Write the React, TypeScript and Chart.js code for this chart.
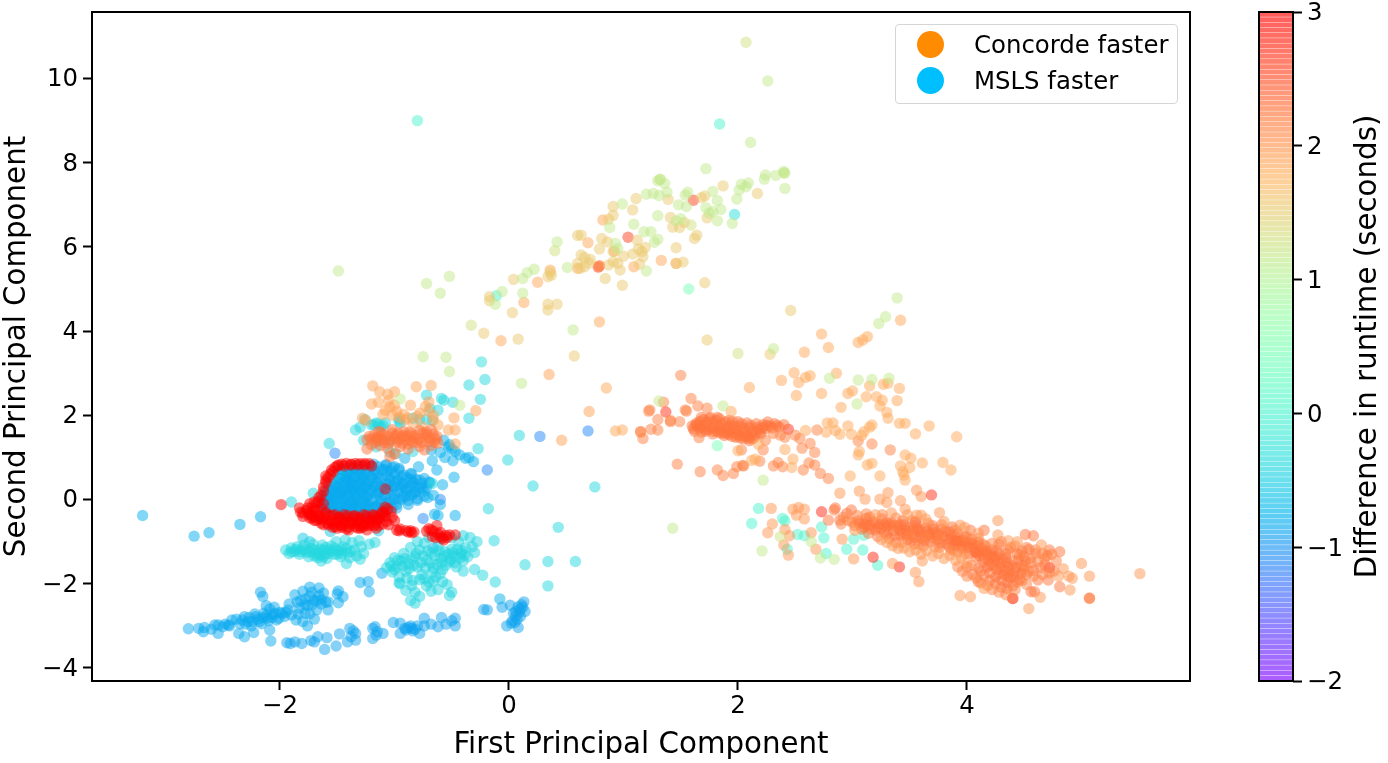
import { useEffect, useRef } from "react"
import { Chart, registerables } from "chart.js"
import type { Plugin } from "chart.js"

Chart.register(...registerables)

type Pt = [number, number]

const xTicks = [-2, 0, 2, 4]
const yTicks = [-4, -2, 0, 2, 4, 6, 8, 10]
const barTicks = [-2, -1, 0, 1, 2, 3]
const xLabel = "First Principal Component"
const yLabel = "Second Principal Component"
const barLabel = "Difference in runtime (seconds)"
const legendLabels = ["Concorde faster", "MSLS faster"]

// upper branch
const upperGreen: Pt[] = [
  [2.26, 9.94], [2.11, 8.48], [1.72, 7.86], [2.4, 7.79], [2.41, 7.75], [2.24, 7.71], [2.23, 7.61], [2.33, 7.7],
  [2.41, 7.39], [2.09, 7.52], [2.03, 7.49], [2.07, 7.43], [2.01, 7.35], [1.99, 7.14], [1.78, 7.32], [1.82, 7.1],
  [1.85, 6.89], [1.72, 6.93], [1.78, 6.84], [1.75, 6.8], [1.82, 6.62], [1.95, 6.56], [1.56, 7.3], [1.54, 7.23],
  [1.48, 7.0], [1.55, 6.96], [1.32, 7.61], [1.3, 7.57], [1.36, 7.51], [1.38, 7.3], [1.31, 7.22], [1.26, 7.27],
  [1.2, 7.25], [1.3, 6.74], [1.46, 6.62], [1.5, 6.67], [1.18, 6.36], [1.24, 6.36], [1.3, 6.18], [1.27, 6.11],
  [0.42, 6.12], [0.51, 5.51], [0.93, 6.08], [0.95, 5.96], [0.22, 5.47], [0.16, 5.39], [0.12, 5.25],
  [-0.06, 4.94], [-0.52, 5.3], [-0.6, 4.9], [-0.72, 5.13], [-0.75, 3.39], [-0.55, 3.38], [-1.49, 5.43],
  [0.56, 4.03], [1.2, 5.43], [0.12, 4.9], [-0.12, 4.64], [0.99, 7.02], [1.09, 6.54], [0.88, 6.46],
  [3.23, 4.18], [3.29, 4.34], [3.39, 4.79], [2.31, 3.58], [3.05, 2.84], [3.17, 2.85], [3.04, 2.27], [1.31, 2.34],
  [1.87, 2.22], [2.8, 2.88], [3.32, 2.88], [-0.95, 2.39], [-0.43, 2.24], [0.11, 2.76], [-0.52, 3.04], [1.43, -0.68],
  [2.22, 0.46], [2.21, -1.22], [2.72, -1.39], [2.84, -1.42], [2.64, -1.0],
]
const upperOlive: Pt[] = [
  [2.07, 10.86], [0.4, 5.91], [2.0, 3.47], [-0.33, 4.14], [1.32, 7.6], [2.4, 7.76], [1.59, 6.52], [2.37, -0.88],
]
const upperTan: Pt[] = [
  [2.17, 7.27], [1.87, 7.45], [1.73, 6.69], [1.68, 7.17], [1.71, 7.21], [1.39, 7.13], [1.11, 7.15], [0.91, 6.96],
  [1.08, 6.88], [0.91, 6.75], [0.87, 6.66], [1.41, 6.7], [1.53, 6.58], [1.43, 6.47], [1.49, 6.46], [1.64, 6.28],
  [1.62, 6.2], [1.12, 6.16], [1.19, 5.99], [1.16, 5.89], [1.08, 5.83], [1.17, 5.77], [1.46, 5.98], [1.46, 5.61],
  [1.52, 5.64], [1.14, 5.59], [0.81, 6.2], [0.86, 6.12], [0.91, 5.89], [0.79, 5.95], [0.6, 6.27], [0.63, 6.28],
  [0.63, 5.81], [0.71, 5.7], [0.66, 5.75], [0.6, 5.61], [0.66, 5.53], [0.62, 5.49], [0.87, 5.57], [0.91, 5.65],
  [0.95, 5.61], [0.97, 5.45], [0.84, 5.25], [0.99, 5.09], [0.37, 5.33], [0.34, 5.29], [0.04, 5.23], [-0.17, 4.82],
  [-0.17, 4.72], [0.34, 4.64], [0.42, 4.64], [0.34, 4.5], [0.03, 4.44], [0.08, 3.81], [0.57, 3.41], [1.73, 3.79],
  [2.28, 3.45], [2.46, 4.49], [-0.22, 3.95], [1.71, 5.15], [0.36, 5.4], [0.7, 5.62], [1.0, 5.78], [1.13, 5.95],
]
const upperOrange: Pt[] = [
  [0.82, 6.64], [0.69, 6.1], [0.92, 5.9], [1.33, 5.68], [1.46, 5.61], [1.09, 5.53], [0.25, 5.16], [0.36, 5.45],
  [0.13, 4.68], [0.79, 4.22], [-0.07, 3.77], [0.6, 5.49], [0.79, 5.55], [2.58, 3.5], [0.85, 2.65], [0.93, 1.63],
  [0.99, 1.65],
]
const upperHot: Pt[] = [[1.61, 7.11], [1.04, 6.23], [0.79, 5.55], [0.78, 5.52]]
const cyanTops: Pt[] = [[-0.8, 9.0], [1.84, 8.92], [-0.11, 4.84]]
const cyanBlue: Pt[] = [[1.97, 6.77], [-0.24, 3.27]]
const mint: Pt[] = [[1.57, 5.0], [1.82, 1.28]]

// middle branch
const midTan: Pt[] = [
  [2.73, 3.93], [2.79, 3.61], [3.05, 3.73], [3.09, 3.79], [3.13, 3.87], [3.42, 4.26], [2.38, 2.83], [2.49, 3.01],
  [2.53, 2.78], [2.59, 2.9], [2.63, 2.94], [2.86, 3.0], [2.1, 2.66], [3.15, 2.7], [3.27, 2.74], [3.31, 2.76],
  [3.41, 2.64], [2.51, 2.47], [2.73, 2.52], [2.96, 2.52], [3.0, 2.58], [3.12, 2.44], [3.21, 2.44], [3.26, 2.36],
  [3.39, 2.35], [3.24, 2.22], [2.9, 2.19], [3.3, 2.07], [3.31, 1.93], [1.94, 2.09], [2.59, 1.64], [2.78, 1.82],
  [2.83, 1.82], [2.77, 1.6], [2.85, 1.64], [2.89, 1.55], [2.96, 1.75], [2.99, 1.55], [3.17, 1.77], [3.15, 1.72],
  [3.1, 1.61], [3.08, 1.52], [3.41, 1.81], [3.46, 1.81], [3.67, 1.75], [3.55, 1.56], [3.91, 1.49], [3.06, 1.14],
  [3.05, 1.06], [3.46, 1.06], [3.51, 0.98], [3.61, 0.87], [3.79, 0.88], [3.86, 0.7], [3.42, 0.8], [3.5, 0.76],
  [3.44, 0.66], [3.45, 0.58], [3.46, 0.46], [2.98, 0.56], [3.24, 0.56], [2.48, 0.96], [2.47, 0.76], [2.41, 1.19],
  [3.13, 0.82], [3.17, 0.86], [2.18, 1.31], [2.0, 1.16], [2.15, 0.96], [2.12, 0.93],
]
const midOrange: Pt[] = [
  [1.5, 2.95], [1.35, 2.31], [1.23, 2.13], [1.22, 2.1], [1.59, 2.4], [1.54, 2.13], [1.65, 2.22], [1.73, 2.17],
  [1.3, 1.9], [1.41, 1.85], [1.49, 1.85], [1.24, 1.67], [1.3, 1.65], [1.15, 1.6], [1.17, 1.45], [1.66, 1.47],
  [2.31, 1.57], [2.37, 1.53], [2.41, 1.48], [2.5, 1.53], [2.54, 1.45], [2.63, 1.33], [2.24, 1.41], [2.22, 1.18],
  [2.03, 1.18], [2.56, 1.22], [2.67, 1.12], [2.19, 0.91], [1.99, 0.78], [1.47, 0.84], [1.67, 0.66], [1.82, 0.7],
  [1.87, 0.57], [1.96, 0.62], [2.31, 0.8], [2.35, 0.88], [2.39, 0.78], [2.57, 0.7], [2.62, 0.87], [2.67, 0.82],
  [2.72, 0.62], [2.79, 0.5], [3.05, 1.39], [3.17, 1.32], [3.33, 1.18], [2.69, 1.65], [2.04, 0.81], [2.05, 0.8],
  [1.41, 1.88], [1.55, 2.1], [1.15, 1.62],
]
const midBand: Pt[] = [
  [1.6, 1.75], [1.62, 1.62], [1.64, 1.82], [1.66, 1.7], [1.68, 1.6], [1.7, 1.9], [1.72, 1.78], [1.74, 1.66],
  [1.76, 1.95], [1.78, 1.84], [1.8, 1.72], [1.82, 1.62], [1.84, 1.92], [1.86, 1.8], [1.88, 1.68], [1.9, 1.58],
  [1.92, 1.88], [1.94, 1.76], [1.96, 1.65], [1.98, 1.55], [2.0, 1.85], [2.02, 1.74], [2.04, 1.62], [2.06, 1.5],
  [2.08, 1.82], [2.1, 1.7], [2.12, 1.58], [2.14, 1.46], [2.16, 1.8], [2.18, 1.66], [2.2, 1.56], [2.22, 1.78],
  [2.24, 1.68], [2.26, 1.84], [2.28, 1.74], [2.32, 1.8], [2.36, 1.72], [2.4, 1.78], [2.05, 1.44], [2.1, 1.4],
  [1.95, 1.5], [1.88, 1.52], [1.78, 1.56], [1.72, 1.62], [1.65, 1.76], [1.75, 1.92], [1.82, 1.95], [1.68, 1.95],
  [1.61, 1.68], [1.63, 1.78], [1.67, 1.86], [1.69, 1.72], [1.71, 1.66], [1.73, 1.84], [1.77, 1.7], [1.79, 1.62],
  [1.81, 1.88], [1.83, 1.76], [1.85, 1.66], [1.87, 1.58], [1.89, 1.84], [1.91, 1.72], [1.93, 1.62], [1.95, 1.86],
  [1.97, 1.74], [1.99, 1.64], [2.01, 1.52], [2.03, 1.8], [2.05, 1.68], [2.07, 1.58], [2.09, 1.46], [2.11, 1.76],
  [2.13, 1.64], [2.15, 1.52], [2.17, 1.72], [2.19, 1.6], [2.21, 1.7], [2.25, 1.76], [2.3, 1.7], [2.34, 1.76],
  [2.02, 1.46], [1.98, 1.48], [2.08, 1.52], [2.12, 1.44], [1.92, 1.54], [1.84, 1.58],
]
const midHot: Pt[] = [[1.37, 2.08], [2.44, 1.67], [3.69, 0.11]]

// lower right branch
const lowTan: Pt[] = [
  [2.89, 0.15], [3.06, 0.2], [3.11, 0.01], [3.31, 0.16], [3.3, -0.07], [3.42, -0.03], [3.56, 0.22], [3.6, 0.07],
  [3.76, -0.31], [3.56, -0.37], [3.6, -0.37], [4.27, -0.5], [2.29, -0.21], [2.3, -0.58], [2.26, -0.79], [2.41, -0.71],
  [2.45, -0.86], [2.64, -0.79], [2.68, -1.18], [2.44, -1.32], [2.4, -1.08], [2.91, -0.94], [3.01, -1.41], [3.02, -0.73],
  [3.35, -1.52], [3.55, -1.73], [3.58, -1.95], [3.61, -1.46], [3.94, -2.28], [4.03, -2.31], [4.54, -2.59], [5.0, -1.52],
  [5.07, -1.82], [5.51, -1.76], [4.9, -2.15], [3.25, -0.95], [3.35, -1.1], [3.45, -1.15], [3.55, -1.2], [3.65, -1.22],
  [3.75, -1.28], [3.85, -1.32], [3.95, -1.38], [2.48, -0.23], [2.53, -0.19], [2.58, -0.23], [2.51, -0.37], [2.58, -0.46],
  [4.84, -1.64], [4.92, -1.87], [4.89, -1.82], [4.8, -1.82], [4.27, -0.84], [4.36, -0.98], [4.44, -1.0], [4.65, -1.08],
  [4.64, -2.32], [4.15, -2.11], [3.94, -0.61], [3.46, -0.23], [3.24, 0.01],
  [3.3, -1.02], [3.4, -1.16], [3.5, -1.24], [3.6, -1.3], [3.7, -1.34], [3.8, -1.4], [3.9, -1.44], [4.0, -1.5],
  [3.2, -0.36], [3.34, -0.32], [3.48, -0.36], [3.64, -0.46], [3.8, -0.52], [3.98, -0.66], [4.1, -0.8],
]
const lowBand: Pt[] = [
  [2.84, -0.25], [2.85, -0.2], [2.79, -0.49], [2.89, -0.49], [2.95, -0.33], [2.99, -0.25], [3.02, -0.62], [3.05, -0.5],
  [3.08, -0.7], [3.1, -0.58], [3.12, -0.45], [3.14, -0.8], [3.15, -0.62], [3.18, -0.52], [3.2, -0.72], [3.22, -0.88],
  [3.24, -0.6], [3.26, -0.46], [3.28, -0.78], [3.3, -0.65], [3.32, -0.92], [3.34, -0.55], [3.36, -0.74], [3.38, -1.02],
  [3.4, -0.62], [3.42, -0.84], [3.44, -0.5], [3.46, -0.72], [3.48, -0.95], [3.5, -0.66], [3.52, -0.82], [3.54, -1.06],
  [3.56, -0.6], [3.58, -0.76], [3.6, -0.92], [3.62, -1.1], [3.64, -0.68], [3.66, -0.84], [3.68, -1.0], [3.7, -0.62],
  [3.72, -0.78], [3.74, -0.95], [3.76, -1.14], [3.78, -0.7], [3.8, -0.88], [3.82, -1.05], [3.84, -0.76], [3.86, -0.94],
  [3.88, -1.2], [3.9, -1.08], [3.92, -0.8], [3.94, -0.98], [3.96, -1.16], [3.98, -0.88], [4.0, -1.06], [4.02, -1.28],
  [4.04, -0.95], [4.06, -1.15], [4.08, -1.36], [4.1, -1.02], [4.12, -1.24], [4.14, -1.48], [4.16, -1.1], [4.18, -1.32],
  [4.2, -1.56], [4.22, -1.2], [4.24, -1.42], [4.26, -1.66], [4.28, -1.3], [4.3, -1.52], [4.32, -1.78], [4.34, -1.38],
  [4.36, -1.6], [4.38, -1.86], [4.4, -1.46], [4.42, -1.7], [4.44, -1.28], [4.46, -1.9], [4.48, -1.56], [4.5, -1.36],
  [4.52, -1.78], [4.54, -1.18], [4.56, -1.5], [4.58, -1.68], [4.6, -1.28], [4.1, -1.62], [4.15, -1.8], [4.2, -1.92],
  [4.25, -2.0], [4.3, -2.08], [4.35, -2.12], [4.4, -2.05], [4.05, -1.78], [4.1, -1.95], [4.0, -1.6], [4.51, -0.83],
  [4.58, -0.86], [4.72, -1.2], [4.81, -1.24], [4.7, -1.33], [4.71, -1.91], [4.62, -1.91], [4.4, -2.35], [4.56, -2.19],
  [4.59, -2.19], [4.81, -2.07], [4.15, -0.73], [4.03, -0.73], [3.87, -0.65], [3.3, -0.55], [3.15, -0.42], [3.42, -0.6],
  [4.68, -1.55], [4.76, -1.7], [4.64, -1.62], [4.48, -1.22], [4.38, -1.14], [4.28, -1.06],
]
const lowBandDense: Pt[] = [
  [3.06, -0.56], [3.1, -0.66], [3.16, -0.7], [3.2, -0.56], [3.25, -0.7], [3.3, -0.82], [3.33, -0.6], [3.37, -0.86],
  [3.41, -0.72], [3.45, -0.6], [3.47, -0.84], [3.51, -0.98], [3.53, -0.72], [3.57, -0.68], [3.59, -0.86], [3.63, -0.98],
  [3.65, -0.76], [3.69, -0.9], [3.71, -0.7], [3.75, -0.82], [3.77, -1.04], [3.81, -0.76], [3.83, -0.96], [3.85, -1.14],
  [3.89, -0.86], [3.91, -1.0], [3.95, -1.1], [3.97, -0.96], [4.01, -1.14], [4.03, -1.02], [4.07, -1.24], [4.09, -1.1],
  [4.11, -1.34], [4.13, -1.16], [4.15, -1.4], [4.17, -1.22], [4.19, -1.46], [4.21, -1.3], [4.23, -1.56], [4.25, -1.36],
  [4.27, -1.48], [4.29, -1.62], [4.31, -1.42], [4.33, -1.68], [4.35, -1.5], [4.37, -1.74], [4.39, -1.58], [4.41, -1.82],
  [4.43, -1.62], [4.45, -1.44], [4.47, -1.76], [4.49, -1.66], [4.51, -1.46], [4.2, -1.74], [4.25, -1.84], [4.3, -1.92],
  [4.35, -1.98], [4.12, -1.7], [4.18, -1.6], [4.28, -1.76], [4.36, -1.84], [4.44, -1.96], [3.74, -0.86], [3.6, -0.74],
  [3.92, -1.0], [3.98, -1.02], [4.05, -1.05], [3.49, -0.74], [3.55, -0.9], [3.68, -0.8], [3.86, -0.84], [3.44, -0.8],
  [3.12, -0.6], [3.22, -0.66], [3.28, -0.6], [3.36, -0.62], [4.16, -1.24], [4.22, -1.36], [4.26, -1.22], [4.34, -1.28],
]
const lowSpread: Pt[] = [
  [4.3, -1.0], [4.36, -1.2], [4.42, -1.1], [4.46, -1.32], [4.52, -1.14], [4.55, -1.4], [4.6, -1.2], [4.62, -1.46],
  [4.66, -1.28], [4.68, -1.4], [4.74, -1.3], [4.78, -1.46], [4.5, -1.6], [4.54, -1.7], [4.58, -1.82], [4.66, -1.78],
  [4.72, -1.74], [4.48, -1.92], [4.52, -2.02], [4.42, -2.14], [4.34, -2.26], [4.28, -2.2], [4.22, -2.14], [4.18, -2.04],
  [4.12, -1.98], [4.08, -1.86], [4.0, -1.82], [3.96, -1.7], [3.92, -1.6], [4.04, -1.56], [4.14, -1.06], [4.22, -1.04],
  [4.1, -0.92], [4.0, -0.88], [3.9, -0.72], [3.78, -0.6], [3.66, -0.56], [3.52, -0.5], [3.38, -0.44], [3.26, -0.36],
  [3.12, -0.34], [3.04, -0.38], [2.96, -0.5], [2.92, -0.42], [2.9, -0.58], [3.0, -0.54], [3.44, -1.02], [3.58, -1.06],
  [3.72, -1.12], [3.86, -1.2], [3.98, -1.28], [3.76, -0.9], [3.64, -0.88], [3.5, -0.86], [3.92, -1.24],
]
const lowHot: Pt[] = [
  [3.18, -1.37], [3.41, -1.6], [3.55, -0.53], [3.9, -0.98], [4.08, -1.26], [4.72, -1.62], [4.4, -2.35], [2.73, -0.29],
]
const lowDeep: Pt[] = [[5.07, -2.35], [5.07, -2.34]]
const lowCyan: Pt[] = [
  [2.18, -0.21], [2.12, -0.57], [2.41, -0.51], [2.52, -0.83], [2.58, -0.86], [2.43, -1.18], [2.75, -0.91], [2.77, -1.28],
  [2.95, -1.18], [3.01, -0.94], [3.09, -1.2], [3.22, -1.56], [2.73, -0.65], [2.39, -0.45], [3.1, -0.85],
]

// left clusters
const redBlob: Pt[] = [
  [-1.99, -0.12], [-1.83, -0.2], [-1.8, -0.32], [-1.77, -0.26], [-1.74, -0.36], [-1.72, -0.44], [-1.7, -0.28], [-1.68, -0.5],
  [-1.66, -0.38], [-1.64, -0.56], [-1.62, -0.44], [-1.6, -0.3], [-1.58, -0.6], [-1.56, -0.5], [-1.54, -0.38], [-1.52, -0.64],
  [-1.5, -0.52], [-1.48, -0.42], [-1.46, -0.66], [-1.44, -0.56], [-1.42, -0.44], [-1.4, -0.66], [-1.38, -0.54], [-1.36, -0.4],
  [-1.34, -0.64], [-1.32, -0.52], [-1.3, -0.44], [-1.28, -0.66], [-1.26, -0.56], [-1.24, -0.44], [-1.22, -0.62], [-1.2, -0.5],
  [-1.18, -0.38], [-1.16, -0.56], [-1.14, -0.46], [-1.12, -0.34], [-1.1, -0.28], [-1.08, -0.4], [-1.06, -0.22], [-1.64, 0.1],
  [-1.62, 0.3], [-1.58, 0.52], [-1.62, -0.1], [-1.52, 0.76], [-1.49, 0.82], [-1.46, 0.84], [-1.42, 0.86], [-1.38, 0.84],
  [-1.34, 0.86], [-1.3, 0.85], [-1.26, 0.86], [-1.22, 0.85], [-1.56, 0.6], [-1.6, 0.4], [-1.66, -0.04], [-1.55, 0.7],
  [-1.6, 0.56], [-0.98, -0.73], [-0.95, -0.7], [-0.88, -0.77], [-0.85, -0.79], [-0.83, -0.77], [-0.7, -0.69], [-0.66, -0.75],
  [-0.63, -0.62], [-0.6, -0.88], [-0.57, -0.96], [-0.52, -0.84], [-0.47, -0.84], [-0.67, -0.88], [-0.6, -0.78], [-1.08, 0.25],
  [-1.72, -0.18], [-1.7, -0.4], [-1.54, -0.66], [-1.42, -0.7], [-1.3, -0.68], [-1.18, -0.62], [-1.48, -0.6],
]
const redFill: Pt[] = [
  [-1.5, 0.8], [-1.44, 0.8], [-1.38, 0.82], [-1.32, 0.82], [-1.26, 0.82], [-1.2, 0.8], [-1.54, 0.66], [-1.6, 0.46],
  [-1.62, 0.2], [-1.66, 0.05], [-1.7, -0.06], [-1.74, -0.1], [-1.68, -0.08], [-1.76, -0.2], [-1.7, -0.22], [-1.64, -0.2],
  [-1.82, -0.3], [-1.75, -0.32], [-1.68, -0.28], [-1.6, -0.34], [-1.52, -0.36], [-1.44, -0.36], [-1.35, -0.38], [-1.27, -0.36],
  [-1.19, -0.36], [-1.1, -0.32], [-1.03, -0.28], [-1.08, -0.18], [-1.8, -0.4], [-1.72, -0.38], [-1.65, -0.42], [-1.57, -0.38],
  [-1.49, -0.42], [-1.41, -0.38], [-1.33, -0.42], [-1.25, -0.38], [-1.17, -0.42], [-1.09, -0.38], [-1.02, -0.42], [-1.7, -0.5],
  [-1.63, -0.48], [-1.55, -0.52], [-1.47, -0.48], [-1.39, -0.52], [-1.31, -0.48], [-1.23, -0.52], [-1.15, -0.48], [-1.07, -0.52],
  [-1.62, -0.6], [-1.54, -0.58], [-1.46, -0.62], [-1.38, -0.58], [-1.3, -0.62], [-1.22, -0.58], [-1.14, -0.62], [-1.5, -0.68],
  [-1.4, -0.72], [-1.32, -0.68], [-1.24, -0.72], [-1.16, -0.68], [-1.05, -0.6], [-1.0, -0.5], [-0.96, -0.74], [-0.9, -0.74],
  [-0.86, -0.74], [-0.72, -0.75], [-0.64, -0.9], [-0.58, -0.92], [-0.54, -0.9], [-0.62, -0.82], [-0.55, -0.85], [-0.68, -0.72],
  [-1.58, -0.56], [-1.66, -0.46], [-1.74, -0.44], [-1.44, -0.52], [-1.34, -0.56], [-1.26, -0.62], [-1.1, -0.58],
]
const midOrangeLeft: Pt[] = [
  [-1.24, 1.42], [-1.2, 1.3], [-1.18, 1.52], [-1.15, 1.4], [-1.12, 1.28], [-1.1, 1.55], [-1.08, 1.44], [-1.05, 1.34],
  [-1.02, 1.58], [-1.0, 1.46], [-0.98, 1.36], [-0.95, 1.26], [-0.92, 1.52], [-0.9, 1.42], [-0.88, 1.32], [-0.85, 1.56],
  [-0.83, 1.46], [-0.8, 1.36], [-0.78, 1.26], [-0.75, 1.58], [-0.73, 1.48], [-0.7, 1.38], [-0.68, 1.28], [-0.66, 1.55],
  [-0.64, 1.44], [-0.62, 1.34], [-1.14, 1.62], [-1.02, 1.66], [-0.92, 1.62], [-0.78, 1.64], [-0.68, 1.66], [-1.2, 1.44],
  [-1.06, 1.22], [-0.88, 1.2], [-0.74, 1.18], [-1.24, 1.2], [-1.04, 1.02], [-1.0, 1.08], [-1.22, 1.5], [-1.17, 1.36],
  [-1.13, 1.48], [-1.09, 1.36], [-1.06, 1.5], [-1.03, 1.4], [-0.99, 1.52], [-0.96, 1.42], [-0.93, 1.34], [-0.89, 1.5],
  [-0.86, 1.4], [-0.82, 1.52], [-0.79, 1.44], [-0.76, 1.36], [-0.72, 1.54], [-0.69, 1.44], [-0.65, 1.36], [-0.63, 1.5],
  [-0.97, 1.58], [-0.87, 1.6], [-0.72, 1.6], [-1.12, 1.6], [-1.16, 1.46], [-1.11, 1.42], [-0.94, 1.48], [-0.84, 1.36],
]
const leftTan: Pt[] = [
  [-1.19, 2.7], [-1.13, 2.56], [-1.0, 2.56], [-0.81, 2.68], [-0.68, 2.71], [-1.2, 2.27], [-1.14, 2.31], [-1.05, 2.36],
  [-0.86, 2.24], [-0.73, 2.21], [-0.7, 2.32], [-1.04, 2.2], [-1.0, 2.24], [-0.98, 2.1], [-1.28, 1.93], [-0.91, 1.89],
  [-0.84, 1.81], [-0.66, 1.89], [-0.62, 1.77], [-0.53, 1.65], [-0.47, 1.65], [-0.48, 1.94], [-0.29, 2.11], [-0.47, 1.32],
  [0.35, 2.97], [0.7, 2.09], [0.46, 1.41], [-1.06, 2.5], [-0.78, 2.05], [-0.7, 2.1], [-0.66, 2.0], [-1.25, 1.88],
  [-1.1, 2.02], [-0.92, 2.02], [-0.76, 1.74], [-1.08, 2.12], [-1.02, 2.0], [-0.96, 1.96], [-0.88, 1.94], [-0.8, 1.98],
]
const leftCyan: Pt[] = [
  [-0.72, 2.48], [-0.59, 2.4], [-0.57, 2.36], [-0.49, 2.31], [-0.62, 2.12], [-0.69, 2.16], [-0.35, 2.72], [-0.21, 2.85],
  [-0.25, 2.38], [-0.35, 1.93], [-0.27, 1.21], [-0.01, 0.94], [0.09, 1.52], [0.21, 0.32], [0.75, 0.3], [-0.18, -0.22],
  [0.43, -0.66], [-0.13, -0.98], [0.14, -1.55], [0.34, -1.47], [0.58, -1.47], [0.34, -2.05], [-0.23, -1.8], [-0.12, -1.96],
  [-1.2, 1.77], [-1.14, 1.8], [-1.08, 1.82], [-1.12, 1.72], [-0.96, 1.91], [-0.84, 1.93], [-0.78, 1.9], [-0.72, 1.9],
  [-0.67, 1.88], [-1.34, 1.65], [-1.3, 1.72], [-1.27, 1.41], [-1.57, 1.33], [-1.15, 1.45], [-1.04, 1.4], [-1.16, 1.25],
  [-1.04, 1.13], [-0.99, 1.09], [-0.84, 1.14], [-0.67, 0.38], [-1.71, 0.15], [-1.9, -0.06], [-1.26, 1.9], [-0.95, 1.82],
  [-1.18, 1.78], [-1.1, 1.76], [-0.96, 1.86], [-1.16, 1.82],
]
const leftBlue: Pt[] = [
  [-0.57, 1.41], [-0.53, 1.25], [-0.47, 1.14], [-0.43, 1.06], [-0.56, 1.0], [-0.49, 0.92], [-0.38, 0.98], [-0.31, 0.9],
  [-0.48, 0.53], [-0.68, 1.18], [-0.67, 0.92], [-0.63, 0.7], [-0.91, 0.98], [-0.79, 0.78], [-0.6, 1.12], [-0.5, 1.2],
  [-0.35, 1.0], [-3.2, -0.38], [-2.75, -0.87], [-2.62, -0.79], [-2.35, -0.59], [-2.17, -0.41], [-0.08, -2.36], [-0.66, -1.15],
  [-0.6, -0.12], [-0.71, 0.05], [-0.65, -0.35], [-0.62, -0.38], [-0.47, -0.38], [-0.58, 0.35], [-0.66, 0.1], [-0.52, 1.3],
]
const purpleBlue: Pt[] = [[0.27, 1.5], [-0.19, 0.7], [-1.52, 1.1], [-0.6, 0.0], [-0.75, -0.45], [0.69, 1.63], [-1.38, 0.33], [-1.36, 0.3], [-1.34, 0.34]]
const blueBlob: Pt[] = [
  [-1.64, -0.1], [-1.62, 0.08], [-1.6, -0.22], [-1.58, 0.22], [-1.56, -0.04], [-1.54, 0.36], [-1.52, 0.12], [-1.5, -0.28],
  [-1.48, 0.5], [-1.46, 0.24], [-1.44, 0.0], [-1.42, -0.18], [-1.4, 0.62], [-1.38, 0.4], [-1.36, 0.16], [-1.34, -0.1],
  [-1.32, -0.36], [-1.3, 0.72], [-1.28, 0.52], [-1.26, 0.28], [-1.24, 0.06], [-1.22, -0.2], [-1.2, 0.78], [-1.18, 0.6],
  [-1.16, 0.38], [-1.14, 0.14], [-1.12, -0.08], [-1.1, -0.3], [-1.08, 0.82], [-1.06, 0.66], [-1.04, 0.46], [-1.02, 0.22],
  [-1.0, 0.02], [-0.98, -0.2], [-0.96, 0.74], [-0.94, 0.54], [-0.92, 0.3], [-0.9, 0.08], [-0.88, -0.12], [-0.86, 0.62],
  [-0.84, 0.4], [-0.82, 0.18], [-0.8, -0.02], [-0.78, 0.46], [-0.76, 0.26], [-0.74, 0.08], [-1.46, 0.7], [-1.36, 0.76],
  [-1.28, 0.8], [-1.18, 0.84], [-1.1, 0.7], [-1.02, 0.76], [-1.5, 0.32], [-1.42, 0.44], [-1.34, 0.56], [-1.24, 0.66],
  [-1.14, 0.52], [-1.06, 0.36], [-0.98, 0.44], [-0.9, 0.24], [-0.82, 0.3], [-1.58, 0.04], [-1.48, 0.08], [-1.38, -0.04],
  [-1.28, 0.12], [-1.2, 0.2], [-1.1, 0.1], [-1.04, -0.06], [-0.94, 0.0], [-1.54, -0.16], [-1.44, -0.22], [-1.34, -0.24],
  [-1.24, -0.12], [-1.14, -0.2], [-1.4, 0.24], [-1.3, 0.36], [-1.22, 0.44], [-1.12, 0.3], [-1.0, 0.3], [-0.94, 0.36],
  [-1.62, -0.18], [-1.26, -0.32], [-1.16, -0.36], [-1.06, -0.26], [-0.86, 0.1], [-0.72, 0.28], [-0.7, 0.42], [-0.86, 0.48],
]
const blueFill: Pt[] = [
  [-1.2, 0.8], [-1.14, 0.78], [-1.07, 0.82], [-1.0, 0.78], [-1.32, 0.7], [-1.25, 0.72], [-1.17, 0.68], [-1.1, 0.72],
  [-1.03, 0.68], [-0.96, 0.7], [-1.38, 0.6], [-1.3, 0.62], [-1.22, 0.58], [-1.15, 0.62], [-1.07, 0.58], [-1.0, 0.62],
  [-0.92, 0.58], [-0.85, 0.6], [-1.42, 0.5], [-1.35, 0.52], [-1.27, 0.48], [-1.2, 0.52], [-1.12, 0.48], [-1.04, 0.52],
  [-0.97, 0.48], [-0.89, 0.52], [-0.81, 0.48], [-0.74, 0.5], [-1.45, 0.4], [-1.38, 0.38], [-1.3, 0.42], [-1.23, 0.38],
  [-1.15, 0.42], [-1.07, 0.38], [-1.0, 0.42], [-0.92, 0.38], [-0.84, 0.42], [-0.76, 0.38], [-0.69, 0.4], [-1.5, 0.3],
  [-1.42, 0.28], [-1.34, 0.32], [-1.26, 0.28], [-1.18, 0.32], [-1.1, 0.28], [-1.02, 0.32], [-0.94, 0.28], [-0.86, 0.32],
  [-0.78, 0.28], [-1.54, 0.2], [-1.46, 0.18], [-1.38, 0.22], [-1.3, 0.18], [-1.22, 0.22], [-1.14, 0.18], [-1.06, 0.22],
  [-0.98, 0.18], [-0.9, 0.22], [-0.82, 0.18], [-0.74, 0.2], [-1.56, 0.1], [-1.48, 0.12], [-1.4, 0.08], [-1.32, 0.12],
  [-1.24, 0.08], [-1.16, 0.12], [-1.08, 0.08], [-1.0, 0.12], [-0.92, 0.08], [-0.84, 0.12], [-1.6, 0.0], [-1.52, -0.02],
  [-1.44, 0.02], [-1.36, -0.02], [-1.28, 0.02], [-1.2, -0.02], [-1.12, 0.02], [-1.04, -0.02], [-0.96, 0.02], [-0.88, -0.02],
  [-0.8, 0.02], [-1.62, -0.1], [-1.54, -0.08], [-1.46, -0.12], [-1.38, -0.08], [-1.3, -0.12], [-1.22, -0.08], [-1.14, -0.12],
  [-1.06, -0.08], [-0.98, -0.12], [-1.58, -0.2], [-1.5, -0.18], [-1.42, -0.22], [-1.34, -0.18], [-1.26, -0.22], [-1.18, -0.18],
  [-1.1, -0.22], [-1.02, -0.18], [-1.5, -0.3], [-1.42, -0.32], [-1.34, -0.28], [-1.24, -0.32], [-1.14, -0.28], [-1.38, -0.42],
  [-1.26, -0.4], [-1.14, -0.44],
]
const tealBlob: Pt[] = [
  [-1.46, -0.42], [-1.36, -0.5], [-1.28, -0.3], [-1.22, -0.48], [-1.12, -0.44], [-1.46, 0.5], [-1.18, 0.3], [-1.55, -0.28],
  [-1.74, -1.0], [-1.45, -0.33], [-1.8, -0.92], [-1.56, -0.76], [-1.14, -0.74], [-1.3, -0.15], [-1.4, -0.3], [-1.34, 0.05],
  [-1.62, 0.0], [-1.6, -0.14], [-1.58, 0.14], [-1.56, -0.24], [-1.54, 0.28], [-1.52, -0.1], [-1.5, 0.42], [-1.5, 0.16],
  [-1.48, -0.32], [-1.46, 0.58], [-1.46, 0.04], [-1.44, 0.3], [-1.44, -0.16], [-1.42, 0.68], [-1.42, 0.14], [-1.4, -0.36],
  [-1.38, 0.52], [-1.38, -0.14], [-1.36, 0.72], [-1.36, 0.24], [-1.34, -0.36], [-1.32, 0.44], [-1.32, -0.02], [-1.3, 0.2],
  [-1.28, -0.42], [-1.26, 0.62], [-1.26, -0.04], [-1.24, 0.34], [-1.22, -0.3], [-1.2, 0.14], [-1.18, -0.44], [-1.16, -0.14],
  [-1.6, 0.2], [-1.57, 0.34], [-1.54, 0.48], [-1.5, 0.6], [-1.46, 0.72], [-1.4, 0.76], [-1.34, 0.78],
  [-1.6, 0.06], [-1.58, -0.08], [-1.56, 0.2], [-1.54, 0.04], [-1.52, 0.3], [-1.5, -0.16], [-1.48, 0.42], [-1.48, 0.18],
  [-1.46, -0.02], [-1.44, 0.54], [-1.44, 0.2], [-1.42, -0.1], [-1.4, 0.46], [-1.4, 0.1], [-1.38, 0.66], [-1.38, -0.22],
  [-1.36, 0.34], [-1.34, 0.14], [-1.32, -0.18], [-1.3, 0.54], [-1.28, 0.24], [-1.28, -0.1], [-1.26, 0.42], [-1.24, -0.24],
]
const tealLeft: Pt[] = [
  [-1.95, -1.2], [-1.92, -1.28], [-1.9, -1.15], [-1.87, -1.24], [-1.85, -1.12], [-1.83, -1.3], [-1.81, -1.18], [-1.79, -1.08],
  [-1.77, -1.26], [-1.75, -1.36], [-1.73, -1.16], [-1.71, -1.06], [-1.69, -1.28], [-1.67, -1.38], [-1.65, -1.18], [-1.63, -1.08],
  [-1.61, -1.3], [-1.59, -1.4], [-1.57, -1.2], [-1.55, -1.1], [-1.53, -1.3], [-1.51, -1.0], [-1.49, -1.22], [-1.47, -1.36],
  [-1.45, -1.12], [-1.43, -0.96], [-1.41, -1.26], [-1.39, -1.38], [-1.37, -1.02], [-1.35, -1.2], [-1.33, -1.34], [-1.31, -0.98],
  [-1.29, -1.12], [-1.27, -1.28], [-1.22, -1.06], [-1.17, -1.02], [-1.42, -1.52], [-1.64, -1.46], [-1.3, -1.42], [-1.9, -1.24],
  [-1.86, -1.18], [-1.82, -1.24], [-1.78, -1.2], [-1.74, -1.24], [-1.7, -1.2], [-1.66, -1.26], [-1.62, -1.2], [-1.58, -1.28],
  [-1.54, -1.22], [-1.7, -1.34], [-1.66, -1.32], [-1.62, -1.36], [-1.5, -1.3], [-1.46, -1.2], [-1.42, -1.16], [-1.38, -1.24],
  [-1.6, -1.14], [-1.52, -1.16], [-1.46, -1.28],
]
const tealRight: Pt[] = [
  [-1.07, -1.62], [-1.04, -1.5], [-1.02, -1.72], [-1.0, -1.38], [-0.98, -1.6], [-0.96, -1.84], [-0.94, -1.46], [-0.92, -1.28],
  [-0.9, -1.7], [-0.88, -1.52], [-0.86, -1.14], [-0.84, -1.92], [-0.82, -1.36], [-0.8, -1.6], [-0.78, -1.2], [-0.76, -1.78],
  [-0.74, -1.04], [-0.72, -1.44], [-0.7, -1.96], [-0.68, -1.26], [-0.66, -1.62], [-0.64, -1.84], [-0.62, -1.1], [-0.6, -1.4],
  [-0.58, -1.66], [-0.56, -1.24], [-0.54, -2.02], [-0.52, -1.48], [-0.5, -1.18], [-0.48, -1.36], [-0.46, -1.6], [-0.44, -1.0],
  [-0.42, -1.28], [-0.4, -1.46], [-0.38, -1.14], [-0.36, -1.36], [-0.34, -0.9], [-0.32, -1.12], [-0.3, -1.26], [-0.28, -1.0],
  [-0.85, -2.04], [-0.9, -2.16], [-0.82, -2.2], [-0.78, -2.3], [-0.72, -2.05], [-0.68, -2.18], [-0.62, -2.14], [-0.58, -1.95],
  [-0.52, -2.28], [-0.5, -2.2], [-0.95, -2.0], [-0.8, -1.0], [-0.7, -0.9], [-0.6, -0.92], [-0.5, -0.9], [-0.4, -0.86],
  [-0.86, -2.4], [-0.82, -2.46], [-0.96, -1.98], [-0.4, -1.7], [-0.3, -1.66], [-1.03, -1.58], [-1.0, -1.66], [-0.97, -1.44],
  [-0.93, -1.58], [-0.91, -1.4], [-0.87, -1.64], [-0.85, -1.4], [-0.83, -1.56], [-0.81, -1.28], [-0.77, -1.5], [-0.75, -1.34],
  [-0.73, -1.62], [-0.71, -1.22], [-0.69, -1.5], [-0.67, -1.72], [-0.65, -1.32], [-0.63, -1.54], [-0.61, -1.22], [-0.59, -1.5],
  [-0.57, -1.34], [-0.55, -1.56], [-0.53, -1.3], [-0.51, -1.42], [-0.49, -1.26], [-0.47, -1.5], [-0.45, -1.18], [-0.43, -1.38],
  [-0.41, -1.22], [-0.39, -1.32], [-0.89, -1.86], [-0.78, -1.9], [-0.66, -1.94], [-0.6, -1.76], [-0.74, -1.88],
]
const blueLower: Pt[] = [
  [-2.8, -3.07], [-2.71, -3.06], [-2.67, -3.14], [-2.66, -3.04], [-2.6, -3.08], [-2.54, -2.98], [-2.54, -3.18], [-2.45, -2.98],
  [-2.5, -3.02], [-2.42, -2.86], [-2.36, -3.18], [-2.31, -3.26], [-2.23, -3.16], [-2.09, -3.1], [-2.08, -3.36], [-2.38, -2.84],
  [-2.35, -2.95], [-2.31, -2.78], [-2.28, -2.9], [-2.25, -3.0], [-2.22, -2.72], [-2.19, -2.84], [-2.16, -2.95], [-2.14, -2.7],
  [-2.11, -2.82], [-2.09, -2.6], [-2.06, -2.72], [-2.03, -2.86], [-2.0, -2.68], [-2.17, -2.2], [-2.15, -2.3], [-2.12, -2.52],
  [-2.05, -2.56], [-1.96, -2.78], [-1.93, -2.62], [-1.9, -2.74], [-1.87, -2.26], [-1.85, -2.44], [-1.83, -2.58], [-1.8, -2.18],
  [-1.78, -2.36], [-1.76, -2.52], [-1.74, -2.72], [-1.72, -2.2], [-1.7, -2.4], [-1.68, -2.62], [-1.66, -2.28], [-1.64, -2.48],
  [-1.62, -2.22], [-1.6, -2.44], [-1.58, -2.62], [-1.86, -2.86], [-1.78, -2.7], [-1.5, -2.24], [-1.49, -2.17], [-1.45, -2.31],
  [-1.49, -2.45], [-1.58, -2.43], [-1.3, -1.97], [-1.23, -1.95], [-1.22, -2.19], [-1.11, -1.75], [-1.74, -2.08], [-1.66, -2.1],
  [-1.8, -2.9], [-1.7, -2.84], [-1.76, -3.0], [-1.84, -2.72], [-1.92, -2.48], [-2.33, -2.86], [-2.3, -2.96], [-2.27, -2.8],
  [-2.24, -2.9], [-2.21, -2.78], [-2.18, -2.9], [-2.15, -2.8], [-2.12, -2.76], [-2.1, -2.88], [-2.07, -2.8], [-2.04, -2.7],
  [-2.01, -2.82], [-1.98, -2.7], [-1.95, -2.68], [-1.82, -2.4], [-1.78, -2.5], [-1.74, -2.3], [-1.72, -2.5], [-1.68, -2.4],
  [-1.64, -2.38], [-2.57, -2.98], [-2.48, -2.96], [-2.44, -3.0],
]
const blueBottom: Pt[] = [
  [-1.94, -3.4], [-1.91, -3.42], [-1.87, -3.38], [-1.81, -3.42], [-1.73, -3.35], [-1.7, -3.38], [-1.67, -3.26], [-1.61, -3.56],
  [-1.59, -3.28], [-1.51, -3.48], [-1.48, -3.19], [-1.41, -3.38], [-1.39, -3.06], [-1.36, -3.12], [-1.34, -3.18], [-1.34, -3.34],
  [-1.38, -3.26], [-1.19, -3.06], [-1.17, -3.02], [-1.15, -3.14], [-1.1, -3.18], [-1.19, -3.3], [-1.16, -3.22], [-1.01, -2.92],
  [-0.95, -2.94], [-0.95, -3.18], [-0.91, -3.06], [-0.88, -3.04], [-0.85, -3.06], [-0.82, -3.08], [-0.78, -3.18], [-0.8, -3.0],
  [-0.74, -2.82], [-0.74, -3.0], [-0.68, -2.96], [-0.62, -3.02], [-0.59, -2.8], [-0.55, -2.96], [-0.47, -2.82], [-0.47, -3.0],
  [-0.5, -2.88], [-0.9, -3.1], [-0.86, -3.0], [-0.84, -3.12],
]
const blueSpot: Pt[] = [
  [0.01, -2.51], [0.13, -2.43], [0.08, -2.55], [0.14, -2.66], [0.04, -2.7], [0.1, -2.78], [0.07, -2.85], [0.02, -2.94],
  [-0.02, -3.0], [0.08, -3.04], [-0.06, -2.56], [-0.22, -2.61], [-0.19, -2.62], [0.1, -2.6], [0.06, -2.66], [0.11, -2.5],
  [0.05, -2.92], [0.03, -2.88], [0.09, -2.68], [0.12, -2.56], [0.06, -2.76],
]

const clusters: [Pt[], number][] = [
  [upperGreen, 1.15],
  [upperOlive, 1.3],
  [upperTan, 1.55],
  [upperOrange, 1.85],
  [upperHot, 2.6],
  [midTan, 1.85],
  [midOrange, 2.15],
  [midBand, 2.25],
  [midHot, 2.7],
  [lowTan, 2.0],
  [lowSpread, 2.15],
  [lowBand, 2.25],
  [lowBandDense, 2.25],
  [lowHot, 2.75],
  [lowDeep, 2.2],
  [redBlob, 3],
  [redFill, 3],
  [midOrangeLeft, 2.25],
  [leftTan, 1.9],
  [tealLeft, -0.4],
  [tealRight, -0.42],
  [lowCyan, 0],
  [leftCyan, -0.4],
  [leftBlue, -0.8],
  [blueBlob, -0.85],
  [blueFill, -0.85],
  [tealBlob, -0.55],
  [blueLower, -0.85],
  [blueBottom, -0.9],
  [blueSpot, -0.9],
  [purpleBlue, -1.1],
  [cyanTops, 0.0],
  [cyanBlue, -0.3],
  [mint, 0.45],
]

// matplotlib "rainbow" over the colorbar range
function rainbow(v: number, alpha: number) {
  const t = Math.min(1, Math.max(0, (v + 2) / 5))
  const r = Math.min(1, Math.abs(2 * t - 0.5))
  const g = Math.sin(Math.PI * t)
  const b = Math.cos((Math.PI * t) / 2)
  return `rgba(${Math.round(r * 255)}, ${Math.round(g * 255)}, ${Math.round(b * 255)}, ${alpha})`
}

const FONT = "'DejaVu Sans'"

const framePlugin: Plugin<"scatter"> = {
  id: "frame",
  afterDraw(chart) {
    const { ctx, chartArea: a } = chart
    ctx.save()
    ctx.strokeStyle = "#000"
    ctx.lineWidth = 2
    ctx.strokeRect(a.left, a.top, a.right - a.left, a.bottom - a.top)
    ctx.restore()
  },
}

const colorbarPlugin: Plugin<"scatter"> = {
  id: "colorbar",
  beforeDatasetsDraw(chart) {
    const { ctx, chartArea: a, scales } = chart
    const y = scales.y
    const bands = 128
    ctx.save()
    for (let i = 0; i < bands; i++) {
      const lo = -2 + (5 * i) / bands
      const hi = -2 + (5 * (i + 1)) / bands
      const top = y.getPixelForValue(hi)
      const bottom = y.getPixelForValue(lo)
      ctx.fillStyle = rainbow((lo + hi) / 2, 0.64)
      ctx.fillRect(a.left, top, a.right - a.left, bottom - top - 0.4)
    }
    ctx.restore()
  },
  afterDraw(chart) {
    const { ctx, chartArea: a } = chart
    ctx.save()
    ctx.translate(138, (a.top + a.bottom) / 2)
    ctx.rotate(-Math.PI / 2)
    ctx.fillStyle = "#000"
    ctx.font = `29.3px ${FONT}`
    ctx.textAlign = "center"
    ctx.textBaseline = "middle"
    ctx.fillText(barLabel, 0, 0)
    ctx.restore()
  },
}

const minus = (v: number | string) => String(v).replace("-", "\u2212")

export default function App() {
  const mainRef = useRef<HTMLCanvasElement>(null)
  const barRef = useRef<HTMLCanvasElement>(null)

  useEffect(() => {
    if (!mainRef.current || !barRef.current) return

    const main = new Chart(mainRef.current, {
      type: "scatter",
      data: {
        datasets: clusters.map(([points, diff]) => ({
          data: points.map(([x, y]) => ({ x, y })),
          backgroundColor: rainbow(diff, 0.5),
          borderWidth: 0,
          pointRadius: 5.7,
          pointHoverRadius: 5.7,
        })),
      },
      options: {
        animation: false,
        responsive: false,
        devicePixelRatio: 1,
        layout: { padding: { top: 12, right: 40, left: 0, bottom: 0 } },
        plugins: { legend: { display: false }, tooltip: { enabled: false } },
        scales: {
          x: {
            type: "linear",
            min: -3.642,
            max: 5.948,
            afterFit: (s) => {
              s.height = 82
            },
            afterBuildTicks: (s) => {
              s.ticks = xTicks.map((value) => ({ value }))
            },
            grid: { drawOnChartArea: false, tickLength: 9, tickColor: "#000", tickWidth: 2 },
            border: { display: false },
            ticks: {
              color: "#000",
              padding: 2,
              maxRotation: 0,
              font: { family: FONT, size: 24.4 },
              callback: (v) => minus(v),
            },
            title: {
              display: true,
              text: xLabel,
              color: "#000",
              font: { family: FONT, size: 29.3 },
              padding: { top: 0, bottom: 0 },
            },
          },
          y: {
            type: "linear",
            min: -4.31,
            max: 11.58,
            afterFit: (s) => {
              s.width = 92
              s.paddingTop = 0
              s.paddingBottom = 0
            },
            afterBuildTicks: (s) => {
              s.ticks = yTicks.map((value) => ({ value }))
            },
            grid: { drawOnChartArea: false, tickLength: 9, tickColor: "#000", tickWidth: 2 },
            border: { display: false },
            ticks: {
              color: "#000",
              padding: 5,
              labelOffset: 1.5,
              font: { family: FONT, size: 24.4 },
              callback: (v) => minus(v),
            },
            title: {
              display: true,
              text: yLabel,
              color: "#000",
              font: { family: FONT, size: 29.3 },
              padding: { top: 0, bottom: 0 },
            },
          },
        },
      },
      plugins: [framePlugin],
    })

    const bar = new Chart(barRef.current, {
      type: "scatter",
      data: { datasets: [] },
      options: {
        animation: false,
        responsive: false,
        devicePixelRatio: 1,
        layout: { padding: { top: 12, right: 0, left: 29, bottom: 82 } },
        plugins: { legend: { display: false }, tooltip: { enabled: false } },
        scales: {
          x: { type: "linear", display: false, min: 0, max: 1 },
          y: {
            type: "linear",
            position: "right",
            min: -2,
            max: 3,
            afterFit: (s) => {
              s.width = 95
              s.paddingTop = 0
              s.paddingBottom = 0
            },
            afterBuildTicks: (s) => {
              s.ticks = barTicks.map((value) => ({ value }))
            },
            grid: { drawOnChartArea: false, tickLength: 9, tickColor: "#000", tickWidth: 2 },
            border: { display: false },
            ticks: {
              color: "#000",
              padding: 5,
              labelOffset: 2,
              font: { family: FONT, size: 24.4 },
              callback: (v) => minus(v),
            },
          },
        },
      },
      plugins: [colorbarPlugin, framePlugin],
    })

    return () => {
      main.destroy()
      bar.destroy()
    }
  }, [])

  const legendRow = (label: string, color: string) => (
    <div key={label} style={{ display: "flex", alignItems: "center", height: 36 }}>
      <span
        style={{
          width: 27,
          height: 27,
          borderRadius: "50%",
          background: color,
          marginLeft: 21,
          marginRight: 30,
          flex: "none",
        }}
      />
      <span style={{ fontFamily: FONT, fontSize: 24.4, color: "#000", whiteSpace: "nowrap" }}>{label}</span>
    </div>
  )

  return (
    <div style={{ position: "absolute", left: 0, top: 0, width: 1388, height: 763, background: "#fff" }}>
      <canvas ref={mainRef} width={1230} height={763} style={{ position: "absolute", left: 0, top: 0 }} />
      <canvas ref={barRef} width={158} height={763} style={{ position: "absolute", left: 1230, top: 0 }} />
      <div
        style={{
          position: "absolute",
          left: 895,
          top: 24,
          width: 281,
          height: 77,
          border: "1.5px solid #d5d5d5",
          borderRadius: 4,
          background: "rgba(255,255,255,0.8)",
          paddingTop: 1,
          boxSizing: "content-box",
        }}
      >
        {legendRow(legendLabels[0], "#ff8c00")}
        {legendRow(legendLabels[1], "#00bfff")}
      </div>
    </div>
  )
}
